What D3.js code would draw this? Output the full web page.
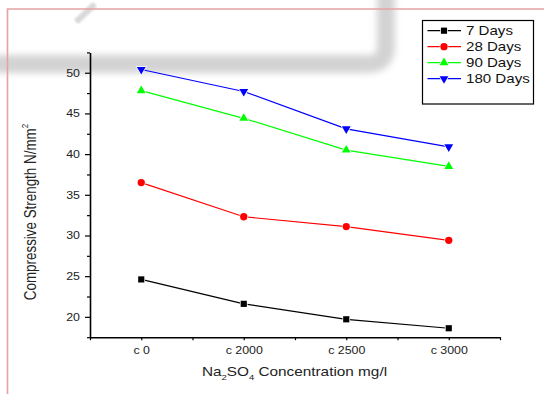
<!DOCTYPE html>
<html>
<head>
<meta charset="utf-8">
<script src="https://cdn.jsdelivr.net/npm/d3@7"></script>
<style>
  html, body { margin: 0; padding: 0; background: #fff; }
  svg { display: block; font-family: "Liberation Sans", Arial, sans-serif; }
</style>
</head>
<body>
<svg id="chart" width="544" height="394"></svg>
<script>
// Compressive strength of concrete vs. sodium sulphate concentration
const categories = ["c 0", "c 2000", "c 2500", "c 3000"];
const days7   = [24.6, 21.6, 19.7, 18.6];
const days28  = [36.5, 32.3, 31.1, 29.4];
const days90  = [47.8, 44.4, 40.5, 38.5];
const days180 = [50.4, 47.7, 43.1, 40.9];
const seriesNames   = ["7 Days", "28 Days", "90 Days", "180 Days"];
const seriesColors  = ["#000000", "#ff0000", "#00ff00", "#0000ff"];
const seriesSymbols = ["square", "circle", "triangle", "triangleDown"];
const yMajorTicks = [20, 25, 30, 35, 40, 45, 50];
const yMinorTicks = [17.5, 22.5, 27.5, 32.5, 37.5, 42.5, 47.5, 52.5];

const series = [days7, days28, days90, days180].map((values, i) => ({
  name: seriesNames[i], color: seriesColors[i], symbol: seriesSymbols[i], values
}));

const SX = 1.18; // text is drawn slightly wide
const svg = d3.select("#chart");

const x = d3.scaleLinear().domain([-0.5, 3.5]).range([90, 500]);
const y = d3.scaleLinear().domain([17.5, 52.5]).range([337.2, 52.4]);

// faint scanned background marks
const defs = svg.append("defs");
defs.append("filter").attr("id", "soft").attr("x", "-20%").attr("y", "-50%")
  .attr("width", "140%").attr("height", "200%")
  .append("feGaussianBlur").attr("stdDeviation", 3.5);
defs.append("filter").attr("id", "soft2")
  .append("feGaussianBlur").attr("stdDeviation", 1.2);

const bg = svg.append("g").attr("fill", "none");
bg.append("path").attr("d", "M -20 64 H 368 Q 386 64 386 46 V -10")
  .attr("stroke", "#d3d3d3").attr("stroke-width", 18).attr("filter", "url(#soft)");
bg.append("path").attr("d", "M 316 -10 V 56")
  .attr("stroke", "#d6d6d6").attr("stroke-width", 15).attr("filter", "url(#soft)");
bg.append("path").attr("d", "M 392 2 H 560")
  .attr("stroke", "#e8e8e8").attr("stroke-width", 16).attr("filter", "url(#soft)");
bg.append("path").attr("d", "M 95 4 L 76 22")
  .attr("stroke", "#d9d9d9").attr("stroke-width", 6).attr("filter", "url(#soft2)");

// page frame lines
svg.append("path").attr("d", "M 7.5 394 V 9 H 544")
  .attr("fill", "none").attr("stroke", "#e5a2a2").attr("stroke-width", 1.6);

function stretchText(sel) {
  sel.each(function () {
    const t = d3.select(this);
    const tx = +t.attr("x") || 0;
    t.attr("x", tx / SX).attr("transform", `scale(${SX},1)`);
  });
}

// Y axis
const yAxisG = svg.append("g").attr("transform", `translate(${x(-0.5)},0)`);
yAxisG.call(d3.axisLeft(y).tickValues(yMajorTicks).tickSize(5).tickPadding(5).tickSizeOuter(0));
yAxisG.append("g").call(d3.axisLeft(y).tickValues(yMinorTicks).tickSize(3).tickFormat("").tickSizeOuter(0))
  .select(".domain").remove();

// X axis
const xAxisG = svg.append("g").attr("transform", `translate(0,${y(17.5)})`);
xAxisG.call(d3.axisBottom(x).tickValues(d3.range(categories.length))
  .tickFormat(i => categories[i]).tickSize(3).tickPadding(6.5).tickSizeOuter(0));
xAxisG.append("g").call(d3.axisBottom(x).tickValues(d3.range(-0.5, categories.length, 1))
  .tickSize(3).tickFormat("").tickSizeOuter(0)).select(".domain").remove();

svg.selectAll(".domain").attr("stroke", "#000").attr("stroke-width", 1.6);
svg.selectAll(".tick line").attr("stroke", "#000").attr("stroke-width", 1.2);
svg.selectAll(".tick text").attr("font-size", 10.5).attr("fill", "#222")
  .attr("font-family", "'Liberation Sans', Arial, sans-serif").call(stretchText);

// axis titles
const xt = svg.append("g").attr("transform", `translate(294.5,376) scale(${SX},1)`)
  .append("text").attr("text-anchor", "middle").attr("font-size", 13).attr("fill", "#222");
xt.append("tspan").text("Na");
xt.append("tspan").attr("font-size", 8).attr("dy", 4).text("2");
xt.append("tspan").attr("dy", -4).text("SO");
xt.append("tspan").attr("font-size", 8).attr("dy", 4).text("4");
xt.append("tspan").attr("dy", -4).text(" Concentration mg/l");

const yt = svg.append("g").attr("transform", `translate(35.5,212) scale(${SX},1) rotate(-90)`)
  .append("text").attr("text-anchor", "middle").attr("font-size", 13.4).attr("fill", "#222");
yt.append("tspan").text("Compressive Strength N/mm");
yt.append("tspan").attr("font-size", 8).attr("dy", -6).text("2");

// series
const symbolTypes = {
  square: d3.symbolSquare, circle: d3.symbolCircle,
  triangle: d3.symbolTriangle, triangleDown: d3.symbolTriangle
};
const symbolSizes = { square: 38, circle: 42, triangle: 34, triangleDown: 34 };
function marker(g, s, cx, cy) {
  g.append("path")
    .attr("d", d3.symbol(symbolTypes[s.symbol], symbolSizes[s.symbol])())
    .attr("transform", `translate(${cx},${cy})` + (s.symbol === "triangleDown" ? " rotate(180)" : ""))
    .attr("fill", s.color).attr("stroke", "#fff").attr("stroke-width", 1.5)
    .attr("paint-order", "stroke");
}

const line = d3.line().x((d, i) => x(i)).y(d => y(d));
const plot = svg.append("g");
series.forEach(s => {
  const g = plot.append("g");
  g.append("path").attr("d", line(s.values)).attr("fill", "none")
    .attr("stroke", s.color).attr("stroke-width", 1.2);
  s.values.forEach((v, i) => marker(g, s, x(i), y(v)));
});

// legend
const legend = svg.append("g");
legend.append("rect").attr("x", 422.5).attr("y", 20.5).attr("width", 111).attr("height", 83.5)
  .attr("fill", "#fff").attr("stroke", "#000").attr("stroke-width", 1.2);
series.forEach((s, i) => {
  const cy = 30.7 + i * 16;
  legend.append("line").attr("x1", 427.5).attr("x2", 461).attr("y1", cy).attr("y2", cy)
    .attr("stroke", s.color).attr("stroke-width", 1.2);
  marker(legend, s, 444, cy);
  legend.append("g").attr("transform", `translate(466,${cy + 4.6}) scale(${SX},1)`)
    .append("text").attr("font-size", 12.8).attr("fill", "#111").text(s.name);
});
</script>
</body>
</html>
